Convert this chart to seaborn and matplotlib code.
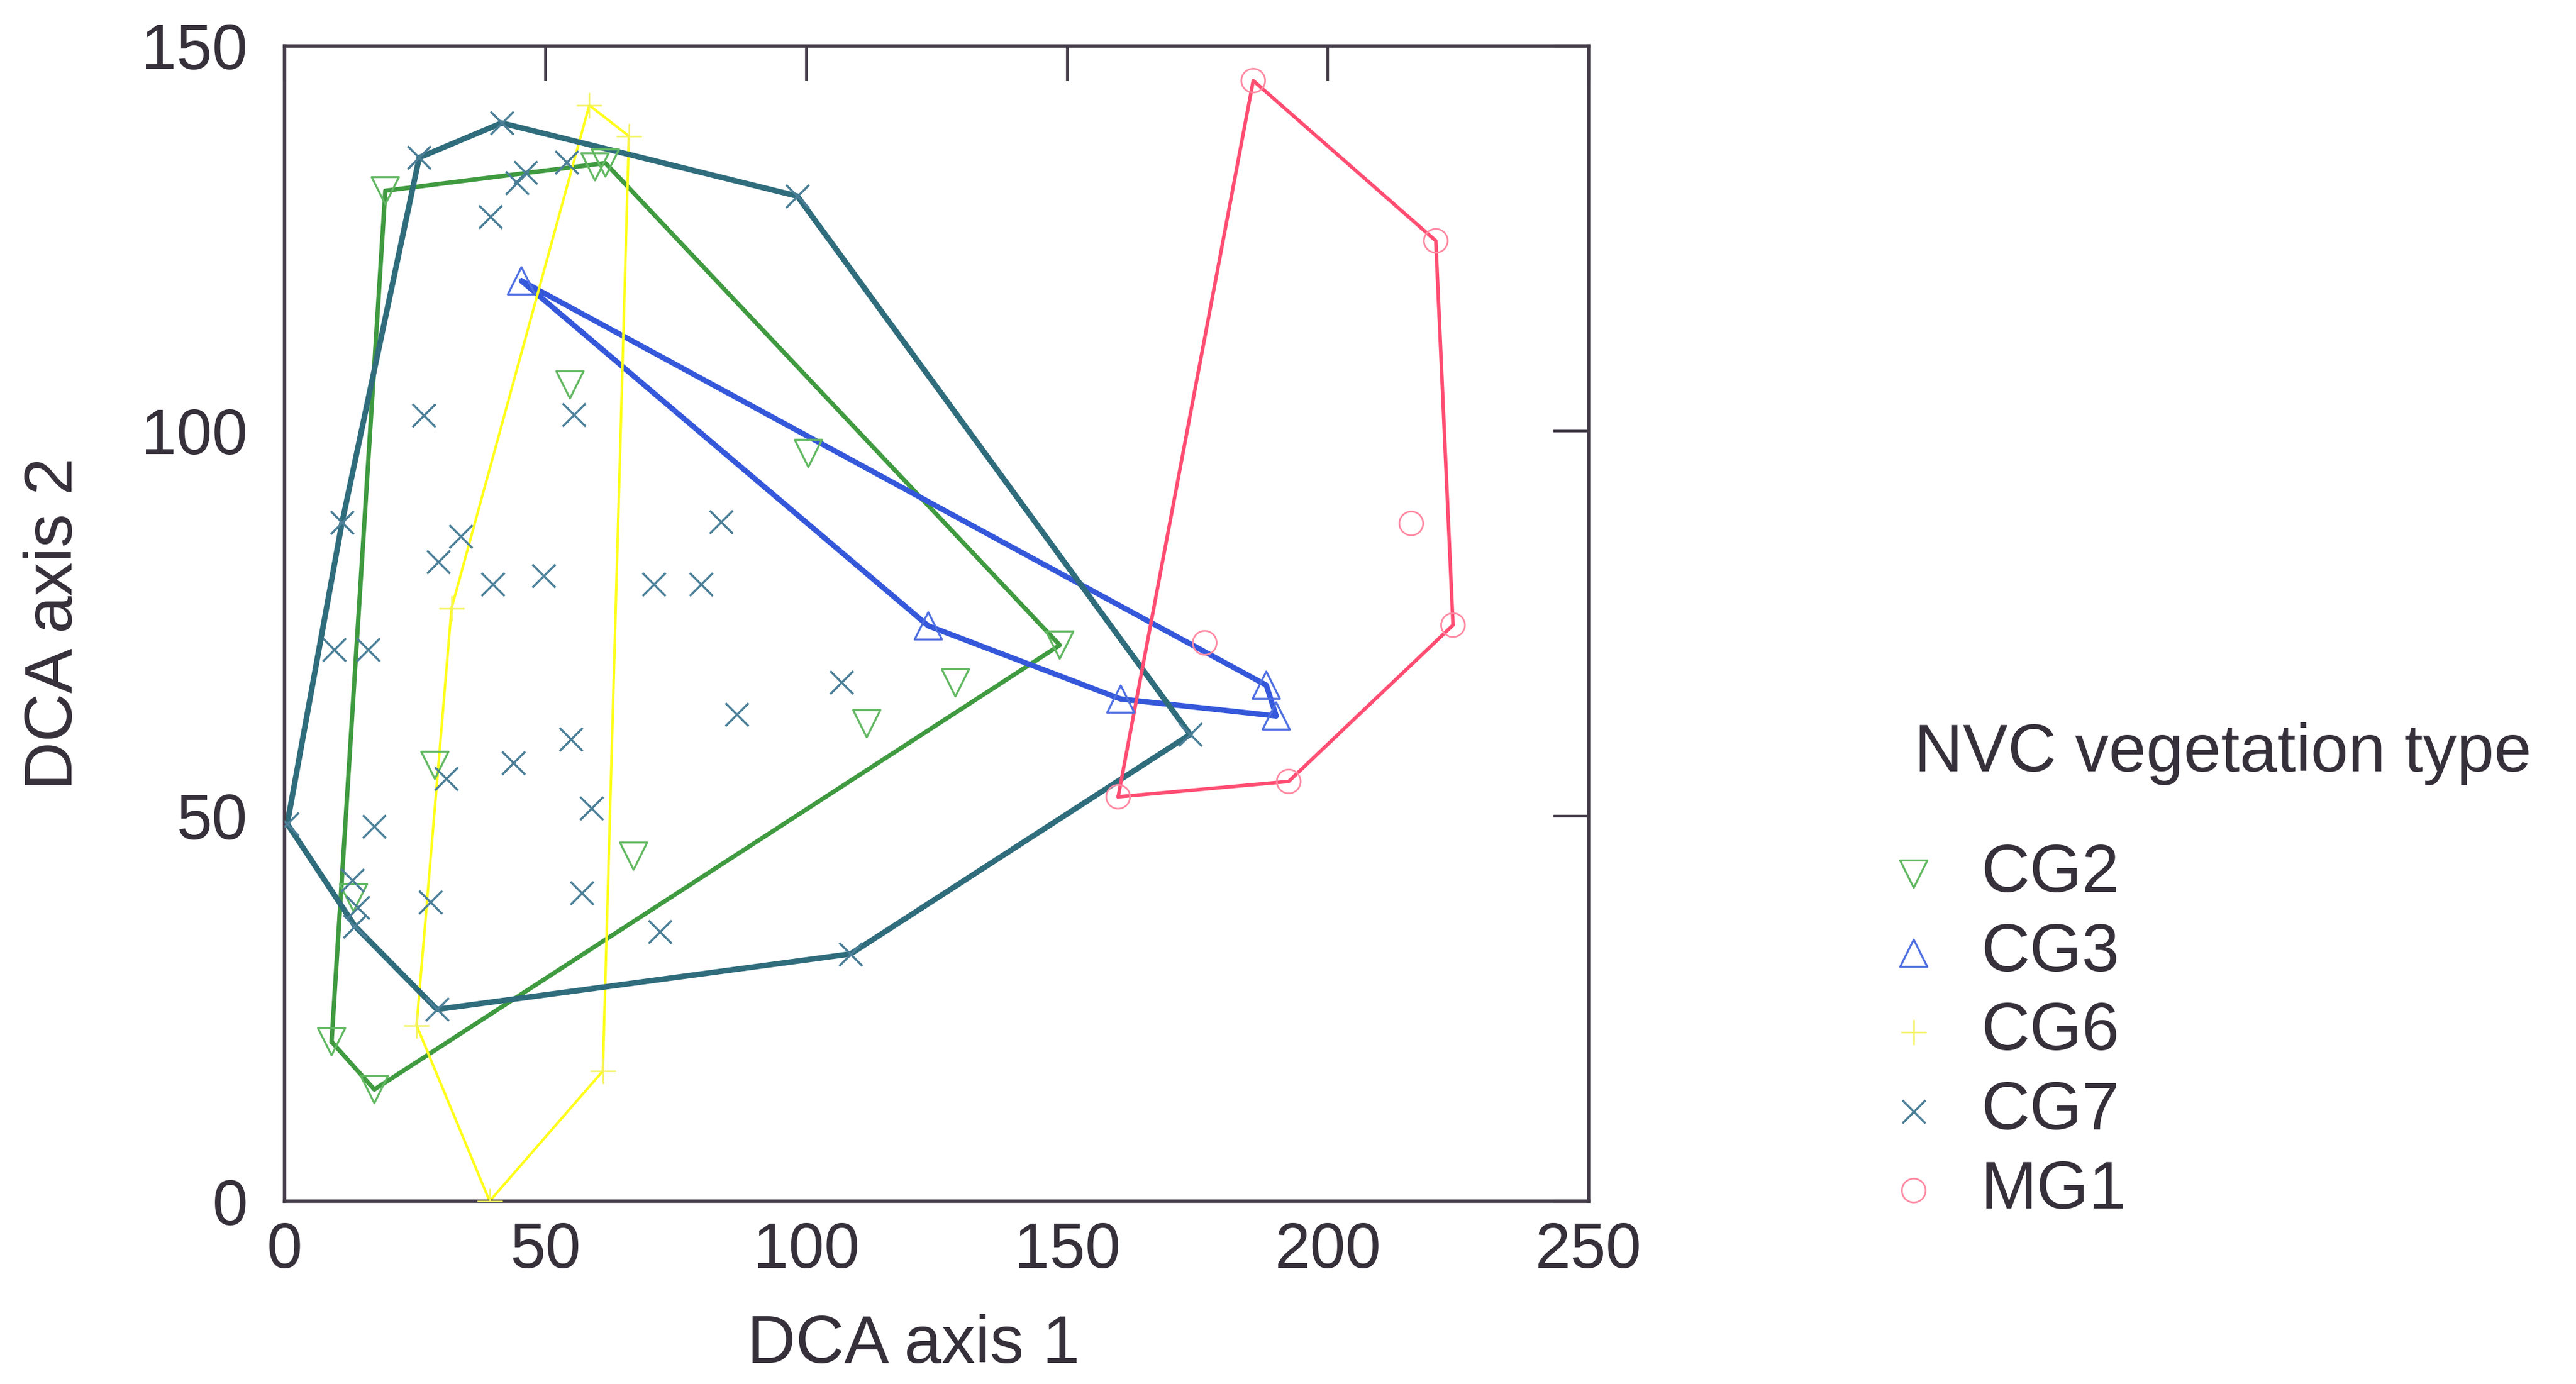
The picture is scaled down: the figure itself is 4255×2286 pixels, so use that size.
import matplotlib
matplotlib.use("Agg")
import matplotlib.pyplot as plt
import seaborn as sns

# DCA site scores (axis 1, axis 2) for each NVC community
cg2_x = [19.3, 59.5, 61.5, 54.7, 100.4, 148.6, 128.6, 111.6, 28.8, 66.9, 13.2, 9.0, 17.2]
cg2_y = [131.2, 134.3, 134.8, 106.0, 97.1, 72.2, 67.3, 62.0, 56.6, 44.8, 39.4, 20.7, 14.5]

cg3_x = [45.4, 123.4, 160.3, 188.2, 190.1]
cg3_y = [119.5, 74.7, 65.2, 67.0, 63.0]

cg6_x = [58.4, 66.0, 61.0, 39.3, 25.3, 32.0]
cg6_y = [142.3, 138.3, 16.9, 0.0, 22.8, 77.0]

cg7_x = [41.6, 25.8, 46.2, 44.5, 54.1, 98.3, 39.5, 26.7, 55.5, 11.0, 33.8, 29.5, 39.9,
         49.7, 70.8, 79.8, 83.7, 9.5, 16.0, 106.8, 86.7, 54.9, 43.9, 31.0, 58.8, 0.5,
         17.1, 13.0, 57.0, 28.0, 14.0, 13.5, 72.0, 108.5, 29.2, 173.6]
cg7_y = [140.0, 135.5, 133.6, 132.2, 134.9, 130.5, 127.8, 102.0, 102.1, 88.1, 86.3, 83.0,
         80.1, 81.2, 80.1, 80.1, 88.2, 71.6, 71.6, 67.4, 63.2, 60.0, 56.9, 54.9, 51.0,
         49.0, 48.7, 41.7, 40.0, 38.8, 38.1, 35.7, 35.0, 32.1, 24.9, 60.6]

mg1_x = [185.7, 220.7, 216.0, 176.4, 224.0, 192.5, 159.8]
mg1_y = [145.5, 124.7, 88.0, 72.5, 74.8, 54.5, 52.5]

groups = ["CG2", "CG3", "CG6", "CG7", "MG1"]
xs = [cg2_x, cg3_x, cg6_x, cg7_x, mg1_x]
ys = [cg2_y, cg3_y, cg6_y, cg7_y, mg1_y]

# Marker, hull colour, marker colour, hull width, marker size, marker edge width
style = {
    "CG2": ("v", "#3f9a40", "#62b862", 5.2, 1050, 2.4),
    "CG3": ("^", "#3558db", "#4f70e2", 6.4, 1050, 2.4),
    "CG6": ("+", "#ffff1a", "#f4f25a", 3.0, 950, 1.8),
    "CG7": ("x", "#2f6c7c", "#4b7f98", 6.6, 750, 2.6),
    "MG1": ("o", "#ff4d72", "#ff8aa3", 4.2, 800, 2.0),
}

tick_x = [0, 50, 100, 150, 200, 250]
tick_y = [0, 50, 100, 150]


def convex_hull(px, py):
    pts = sorted(set(zip(px, py)))
    if len(pts) < 3:
        return pts

    def cross(o, a, b):
        return (a[0] - o[0]) * (b[1] - o[1]) - (a[1] - o[1]) * (b[0] - o[0])

    lower, upper = [], []
    for p in pts:
        while len(lower) >= 2 and cross(lower[-2], lower[-1], p) <= 0:
            lower.pop()
        lower.append(p)
    for p in reversed(pts):
        while len(upper) >= 2 and cross(upper[-2], upper[-1], p) <= 0:
            upper.pop()
        upper.append(p)
    return lower[:-1] + upper[:-1]


sns.set_theme(style="white")
plt.rcParams["font.family"] = ["Liberation Sans", "DejaVu Sans"]
text_col = "#35303a"
spine_col = "#433b48"

fig = plt.figure(figsize=(42.55, 22.86), dpi=100)
ax = fig.add_axes([0.1105, 0.1321, 0.5062, 0.8347])

for g, gx, gy in zip(groups, xs, ys):
    marker, lc, mc, lw, ms, mew = style[g]
    hull = convex_hull(gx, gy)
    hx = [p[0] for p in hull] + [hull[0][0]]
    hy = [p[1] for p in hull] + [hull[0][1]]
    ax.plot(hx, hy, color=lc, lw=lw, solid_joinstyle="round", zorder=2)
    if marker in ("v", "^", "o"):
        sns.scatterplot(x=gx, y=gy, marker=marker, s=ms, color=mc, facecolor="none",
                        edgecolor=mc, linewidth=mew, ax=ax, label=g, zorder=3)
    else:
        sns.scatterplot(x=gx, y=gy, marker=marker, s=ms, color=mc,
                        linewidth=mew, ax=ax, label=g, zorder=3)

ax.set_xlim(0, 250)
ax.set_ylim(0, 150)
ax.set_xticks(tick_x)
ax.set_yticks(tick_y)
ax.set_xticklabels([str(t) for t in tick_x])
ax.set_yticklabels([str(t) for t in tick_y])
ax.tick_params(axis="both", direction="in", length=42, width=3.2, color=spine_col,
               labelsize=76, labelcolor=text_col, top=True, right=True)
ax.tick_params(axis="x", pad=24)
ax.tick_params(axis="y", pad=44)
for sp in ax.spines.values():
    sp.set_visible(True)
    sp.set_color(spine_col)
    sp.set_linewidth(4.0)

fig.text(1509 / 4255, 1 - 2222 / 2286, "DCA axis 1", ha="center", va="center",
         fontsize=80, color=text_col)
fig.text(90 / 4255, 1 - 1030 / 2286, "DCA axis 2", ha="center", va="center",
         rotation=90, fontsize=80, color=text_col)

handles, labels = ax.get_legend_handles_labels()
if ax.legend_ is not None:
    ax.legend_.remove()
fig.text(3162 / 4255, 1 - 1245 / 2286, "NVC vegetation type", ha="left", va="center",
         fontsize=80, color=text_col)
leg = fig.legend(handles, labels, loc="upper left", bbox_to_anchor=(3150 / 4255, 1 - 1392 / 2286),
                 frameon=False, fontsize=80, borderpad=0, borderaxespad=0,
                 handlelength=0.2, handletextpad=0.9, labelspacing=0.24)
for t in leg.get_texts():
    t.set_color(text_col)

fig.savefig("out.png", dpi=100, facecolor="white")
